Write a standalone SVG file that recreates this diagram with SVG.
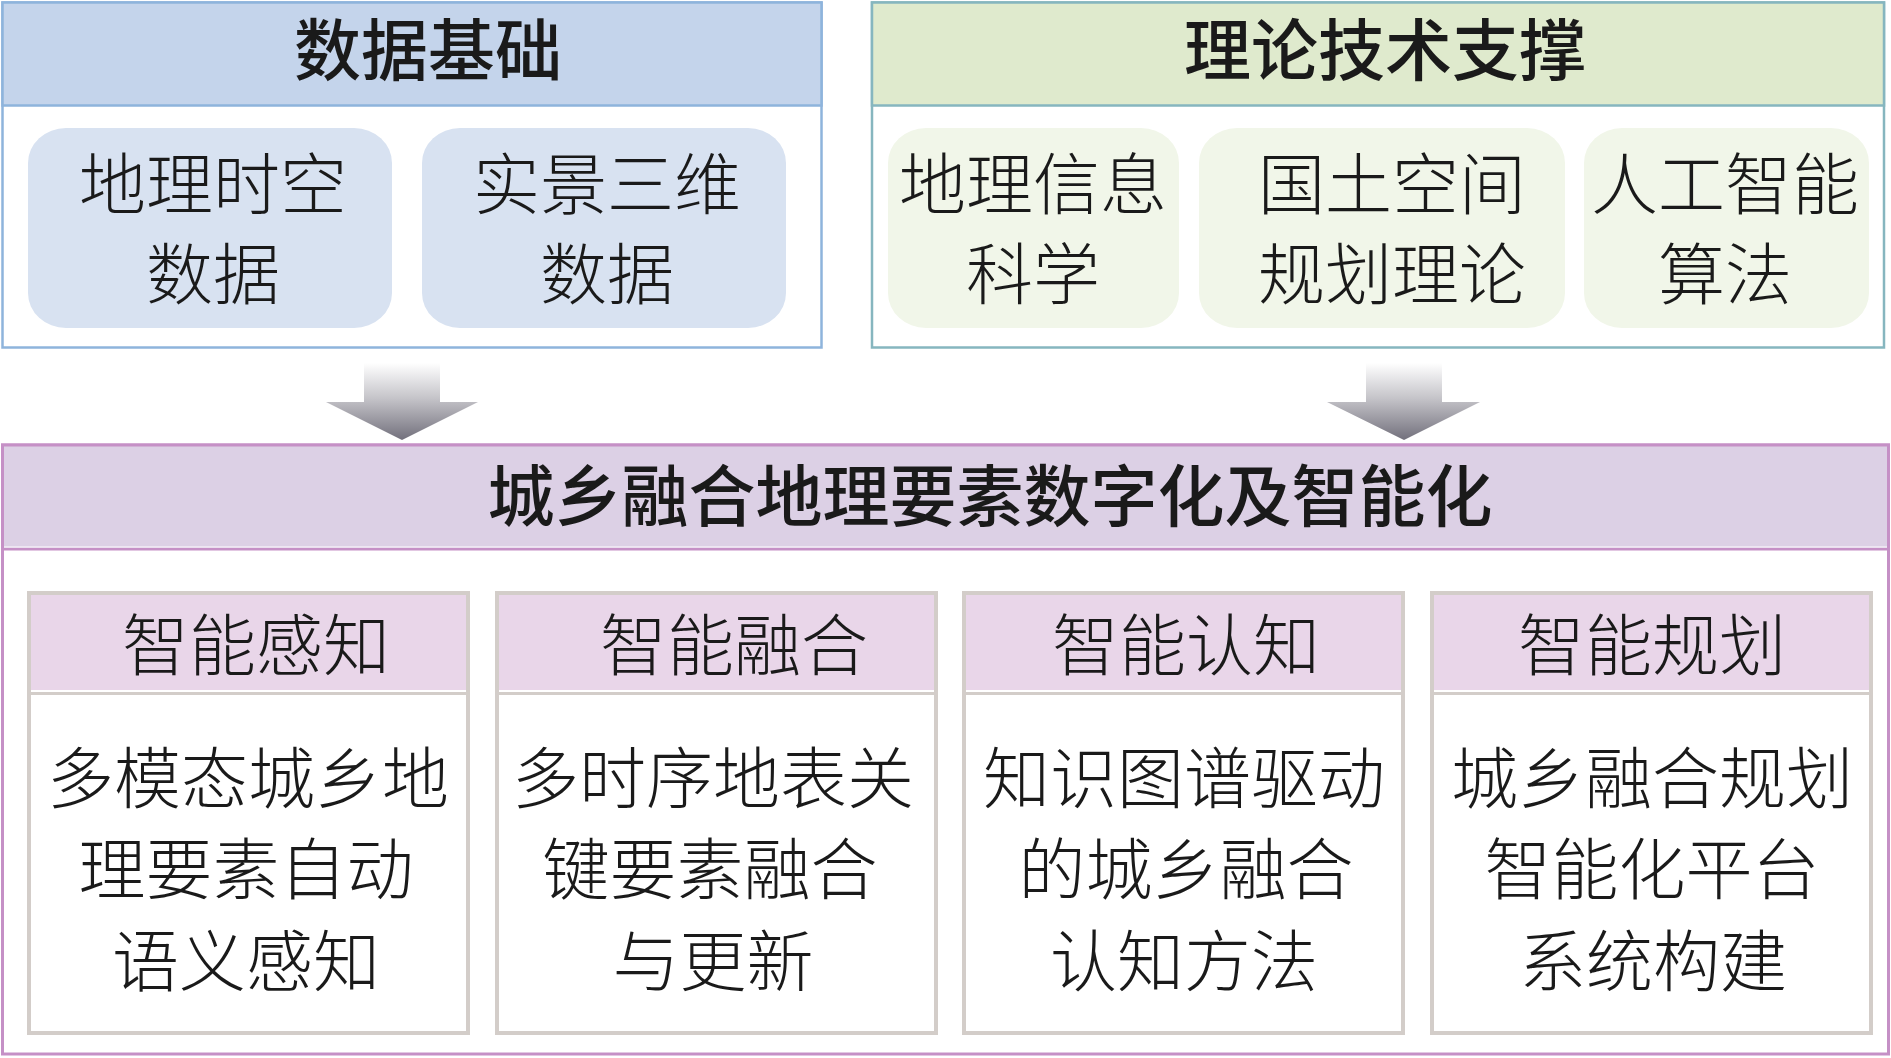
<svg xmlns="http://www.w3.org/2000/svg" width="1891" height="1058" viewBox="0 0 1891 1058">
<style>
text{font-family:"Noto Sans CJK SC","Noto Sans",sans-serif;font-size:67px;text-anchor:middle;fill:#1a1a1a}
.hd{font-weight:500}
.bd{font-weight:300}
.bluebox{fill:#ffffff;stroke:#8eb4dc;stroke-width:2.5}
.bluehd{fill:#c4d4eb;stroke:#8eb4dc;stroke-width:2.5}
.bluein{fill:#d8e2f1}
.greenbox{fill:#ffffff;stroke:#86b6bf;stroke-width:2.5}
.greenhd{fill:#dfeacd;stroke:#86b6bf;stroke-width:2.5}
.greenin{fill:#f1f6e9}
.card{fill:#ffffff;stroke:#d3cdc9;stroke-width:4}
.cardhd{fill:#e9d6e9}
</style>
<defs>
<linearGradient id="arrowGrad" x1="0" y1="0" x2="0" y2="1">
<stop offset="0" stop-color="#ffffff"/>
<stop offset="0.45" stop-color="#c6c5ca"/>
<stop offset="1" stop-color="#72707c"/>
</linearGradient>
</defs>

<g id="data-foundation">
<rect class="bluebox" x="2.5" y="2.5" width="819" height="345"/>
<rect class="bluehd" x="2.5" y="2.5" width="819" height="103"/>
<text class="hd" x="428" y="75">数据基础</text>
</g>
<g id="geo-spatiotemporal-data">
<rect class="bluein" x="28" y="128" width="364" height="200" rx="38" ry="35"/>
<text class="bd" x="213" y="209">地理时空</text>
<text class="bd" x="213" y="299">数据</text>
</g>
<g id="realistic-3d-data">
<rect class="bluein" x="422" y="128" width="364" height="200" rx="38" ry="35"/>
<text class="bd" x="607" y="209">实景三维</text>
<text class="bd" x="607" y="299">数据</text>
</g>

<g id="theory-support">
<rect class="greenbox" x="872" y="2.5" width="1012" height="345"/>
<rect class="greenhd" x="872" y="2.5" width="1012" height="103"/>
<text class="hd" x="1385" y="75">理论技术支撑</text>
</g>
<g id="gis-science">
<rect class="greenin" x="888" y="128" width="291" height="200" rx="38" ry="35"/>
<text class="bd" x="1033" y="209">地理信息</text>
<text class="bd" x="1033" y="299">科学</text>
</g>
<g id="spatial-planning-theory">
<rect class="greenin" x="1199" y="128" width="366" height="200" rx="38" ry="35"/>
<text class="bd" x="1392" y="209">国土空间</text>
<text class="bd" x="1392" y="299">规划理论</text>
</g>
<g id="ai-algorithms">
<rect class="greenin" x="1584" y="128" width="285" height="200" rx="38" ry="35"/>
<text class="bd" x="1725" y="209">人工智能</text>
<text class="bd" x="1725" y="299">算法</text>
</g>

<g id="connectors">
<polygon points="364,363 440,363 440,402 478,402 402,440 326,402 364,402" fill="url(#arrowGrad)"/>
<polygon points="1366,363 1442,363 1442,402 1480,402 1404,440 1327,402 1366,402" fill="url(#arrowGrad)"/>
</g>

<g id="urban-rural-digitalization">
<rect x="2.5" y="445" width="1886" height="609" fill="#ffffff" stroke="#c590c6" stroke-width="3"/>
<rect x="2.5" y="445" width="1886" height="104" fill="#dcd0e5" stroke="#c590c6" stroke-width="3"/>
<line x1="4" y1="547" x2="1887" y2="547" stroke="#f3eef6" stroke-width="1.5"/>
<text class="hd" x="990" y="521">城乡融合地理要素数字化及智能化</text>
</g>

<g id="intelligent-perception">
<rect class="card" x="29" y="593" width="439" height="440"/>
<rect class="cardhd" x="31" y="595" width="435" height="95"/>
<line x1="31" y1="691" x2="466" y2="691" stroke="#ffffff" stroke-width="2"/>
<line x1="31" y1="693.5" x2="466" y2="693.5" stroke="#d3cdc9" stroke-width="3"/>
<text class="bd" x="256" y="670">智能感知</text>
<text class="bd" x="248" y="803">多模态城乡地</text>
<text class="bd" x="246" y="894">理要素自动</text>
<text class="bd" x="246" y="986">语义感知</text>
</g>

<g id="intelligent-fusion">
<rect class="card" x="497" y="593" width="439" height="440"/>
<rect class="cardhd" x="499" y="595" width="435" height="95"/>
<line x1="499" y1="691" x2="934" y2="691" stroke="#ffffff" stroke-width="2"/>
<line x1="499" y1="693.5" x2="934" y2="693.5" stroke="#d3cdc9" stroke-width="3"/>
<text class="bd" x="734" y="670">智能融合</text>
<text class="bd" x="713" y="803">多时序地表关</text>
<text class="bd" x="710" y="894">键要素融合</text>
<text class="bd" x="713" y="986">与更新</text>
</g>

<g id="intelligent-cognition">
<rect class="card" x="964" y="593" width="439" height="440"/>
<rect class="cardhd" x="966" y="595" width="435" height="95"/>
<line x1="966" y1="691" x2="1401" y2="691" stroke="#ffffff" stroke-width="2"/>
<line x1="966" y1="693.5" x2="1401" y2="693.5" stroke="#d3cdc9" stroke-width="3"/>
<text class="bd" x="1186" y="670">智能认知</text>
<text class="bd" x="1184" y="803">知识图谱驱动</text>
<text class="bd" x="1186" y="894">的城乡融合</text>
<text class="bd" x="1184" y="986">认知方法</text>
</g>

<g id="intelligent-planning">
<rect class="card" x="1432" y="593" width="439" height="440"/>
<rect class="cardhd" x="1434" y="595" width="435" height="95"/>
<line x1="1434" y1="691" x2="1869" y2="691" stroke="#ffffff" stroke-width="2"/>
<line x1="1434" y1="693.5" x2="1869" y2="693.5" stroke="#d3cdc9" stroke-width="3"/>
<text class="bd" x="1652" y="670">智能规划</text>
<text class="bd" x="1652" y="803">城乡融合规划</text>
<text class="bd" x="1652" y="894">智能化平台</text>
<text class="bd" x="1653" y="986">系统构建</text>
</g>
</svg>
